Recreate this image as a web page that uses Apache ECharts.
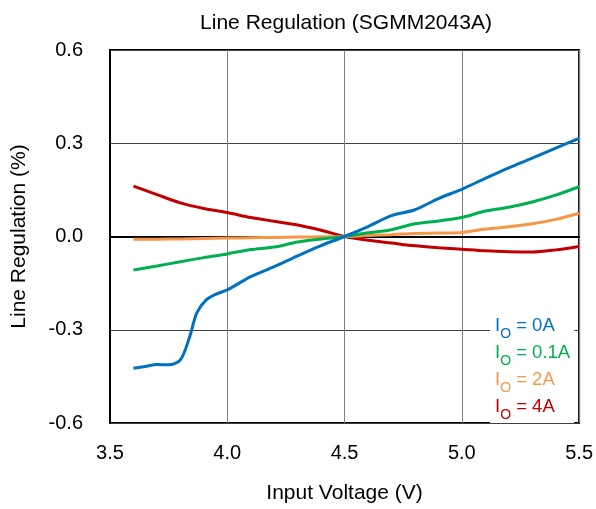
<!DOCTYPE html>
<html>
<head>
<meta charset="utf-8">
<script src="https://cdn.jsdelivr.net/npm/echarts@6/dist/echarts.min.js"></script>
<style>html,body{margin:0;padding:0;background:#fff;}#c{width:596px;height:509px;}</style>
</head>
<body>
<div id="c"></div>
<script>
const xTicks = [3.5, 4.0, 4.5, 5.0, 5.5];
const yTicks = [-0.6, -0.3, 0.0, 0.3, 0.6];
const loadLabels = ['0A', '0.1A', '2A', '4A'];
const colors = ['#0070C0', '#00B050', '#F79646', '#C00000'];

const v0 = [3.6, 3.65, 3.7, 3.75, 3.8, 3.84, 3.87, 3.91, 3.95, 4.0, 4.1, 4.2, 4.3, 4.4, 4.5, 4.6, 4.7, 4.8, 4.9, 5.0, 5.1, 5.2, 5.3, 5.4, 5.5];
const io0A = [-0.424, -0.418, -0.412, -0.413, -0.397, -0.322, -0.246, -0.204, -0.186, -0.172, -0.129, -0.097, -0.062, -0.029, 0, 0.032, 0.067, 0.086, 0.122, 0.152, 0.187, 0.221, 0.252, 0.284, 0.316];

const vStd = [3.6, 3.7, 3.8, 3.9, 4.0, 4.1, 4.2, 4.3, 4.4, 4.5, 4.6, 4.7, 4.8, 4.9, 5.0, 5.1, 5.2, 5.3, 5.4, 5.5];
const io01A = [-0.108, -0.095, -0.081, -0.068, -0.056, -0.042, -0.034, -0.018, -0.008, 0, 0.012, 0.022, 0.041, 0.050, 0.061, 0.082, 0.094, 0.111, 0.133, 0.160];
const io2A = [-0.009, -0.0085, -0.008, -0.0065, -0.005, -0.004, -0.003, -0.002, -0.001, 0, 0.003, 0.006, 0.010, 0.011, 0.013, 0.024, 0.031, 0.041, 0.055, 0.075];
const io4A = [0.162, 0.135, 0.108, 0.090, 0.077, 0.061, 0.049, 0.037, 0.020, 0, -0.012, -0.021, -0.030, -0.036, -0.041, -0.046, -0.049, -0.050, -0.043, -0.032];

function pairs(xs, ys) { return xs.map((x, i) => [x, ys[i]]); }
const seriesData = [pairs(v0, io0A), pairs(vStd, io01A), pairs(vStd, io2A), pairs(vStd, io4A)];
const names = loadLabels.map(l => 'IO = ' + l);

const FONT = '"Liberation Sans", Arial, sans-serif';
const chart = echarts.init(document.getElementById('c'));
chart.setOption({
  animation: false,
  backgroundColor: '#fff',
  title: {
    text: 'Line Regulation (SGMM2043A)',
    left: 341, top: 8, textAlign: 'center',
    textStyle: { fontFamily: FONT, fontSize: 21, fontWeight: 'normal', color: '#000' }
  },
  grid: { left: 110, right: 14, top: 50, bottom: 86, show: true, borderColor: '#000', borderWidth: 2, backgroundColor: 'transparent' },
  legend: {
    orient: 'vertical', left: 490, top: 315,
    icon: 'none', itemWidth: 0, itemHeight: 0, itemGap: 2,
    backgroundColor: '#fff', padding: [1, 4, 1, 0],
    selectedMode: false,
    data: names.map((n, i) => ({ name: n, textStyle: { color: colors[i] } })),
    formatter: function (name) {
      const i = names.indexOf(name);
      return '{a|I}{b|O}{a| = ' + loadLabels[i] + '}';
    },
    textStyle: {
      fontFamily: FONT, fontSize: 19,
      rich: {
        a: { fontFamily: FONT, fontSize: 18.5, lineHeight: 20, verticalAlign: 'bottom' },
        b: { fontFamily: FONT, fontSize: 14, lineHeight: 20, verticalAlign: 'bottom', padding: [0, 0, -6, 0] }
      }
    }
  },
  xAxis: {
    type: 'value', min: 3.5, max: 5.5, interval: 0.5,
    name: 'Input Voltage (V)', nameLocation: 'middle', nameGap: 60,
    nameTextStyle: { fontFamily: FONT, fontSize: 21, color: '#000' },
    axisLine: { show: true, lineStyle: { color: '#000', width: 2 } },
    axisTick: { show: false },
    axisLabel: { margin: 20, fontFamily: FONT, fontSize: 20, color: '#000', formatter: v => xTicks.includes(+v.toFixed(1)) ? v.toFixed(1) : '' },
    splitLine: { show: true, lineStyle: { color: '#808080', width: 1 } }
  },
  yAxis: {
    type: 'value', min: -0.6, max: 0.6, interval: 0.3,
    name: 'Line Regulation (%)', nameLocation: 'middle', nameGap: 80, nameRotate: 90,
    nameTextStyle: { fontFamily: FONT, fontSize: 21, color: '#000' },
    axisLine: { show: true, lineStyle: { color: '#000', width: 2 } },
    axisTick: { show: false },
    axisLabel: { margin: 27, fontFamily: FONT, fontSize: 20, color: '#000', formatter: v => { const r = Math.round(v * 10) / 10; return yTicks.includes(r) ? r.toFixed(1) : ''; } },
    splitLine: { show: true, lineStyle: { color: '#404040', width: 1 } }
  },
  series: seriesData.map((d, i) => ({
    name: names[i], type: 'line', data: d, smooth: 0.3, showSymbol: false, symbol: 'none',
    lineStyle: { color: colors[i], width: 3 }, itemStyle: { color: colors[i] }, z: 3 + (3 - i)
  }))
});
</script>
</body>
</html>
